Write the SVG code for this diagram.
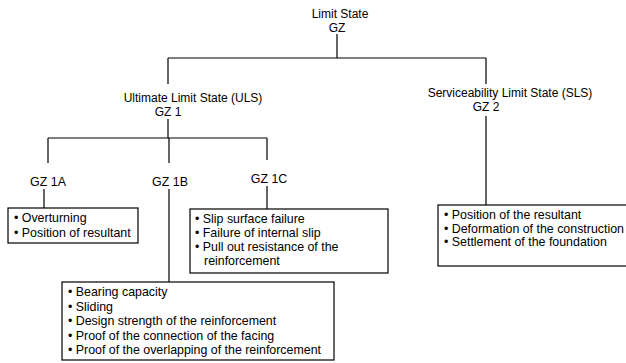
<svg xmlns="http://www.w3.org/2000/svg" width="626" height="363" viewBox="0 0 626 363">
<style>
text{font-family:"Liberation Sans",Arial,sans-serif;font-size:12.4px;fill:#000}
.h{font-size:12px;text-anchor:middle}
.c{text-anchor:middle}
.ln{stroke:#000;stroke-width:1.2;fill:none}
.box{stroke:#000;stroke-width:1.2;fill:#fff}
</style>
<rect width="626" height="363" fill="#fff"/>
<g id="connectors">
<path class="ln" d="M337,34V58M168,58H486M168,58V84M486,58V84"/>
<path class="ln" d="M168,119V138M48,138H267M48,138V163M169,138V163M267,138V160"/>
<path class="ln" d="M44,189V208M169,189V282M267,186V209M486,116V205"/>
</g>
<g id="gz">
<text class="h" x="340" y="18">Limit State</text>
<text class="h" x="337" y="31.5">GZ</text>
</g>
<g id="uls">
<text class="h" x="193" y="102">Ultimate Limit State (ULS)</text>
<text class="h" x="168" y="115.5">GZ 1</text>
</g>
<g id="sls">
<text class="h" x="510" y="97">Serviceability Limit State (SLS)</text>
<text class="h" x="486" y="110.5">GZ 2</text>
</g>
<g id="gz1a">
<text class="c" x="48" y="186">GZ 1A</text>
<rect class="box" x="8" y="208" width="130" height="35"/>
<text x="14" y="222">• Overturning</text>
<text x="14" y="237">• Position of resultant</text>
</g>
<g id="gz1b">
<text class="c" x="170" y="186">GZ 1B</text>
<rect class="box" x="62" y="282" width="272" height="78"/>
<text x="68" y="296">• Bearing capacity</text>
<text x="68" y="310.5">• Sliding</text>
<text x="68" y="325">• Design strength of the reinforcement</text>
<text x="68" y="339.5">• Proof of the connection of the facing</text>
<text x="68" y="354">• Proof of the overlapping of the reinforcement</text>
</g>
<g id="gz1c">
<text class="c" x="269" y="183">GZ 1C</text>
<rect class="box" x="190" y="209" width="198" height="64"/>
<text x="195" y="223">• Slip surface failure</text>
<text x="195" y="237">• Failure of internal slip</text>
<text x="195" y="251">• Pull out resistance of the</text>
<text x="204" y="265">reinforcement</text>
</g>
<g id="gz2box">
<rect class="box" x="438" y="205" width="200" height="61"/>
<text x="444" y="219">• Position of the resultant</text>
<text x="444" y="232.5">• Deformation of the construction</text>
<text x="444" y="246">• Settlement of the foundation</text>
</g>
</svg>
